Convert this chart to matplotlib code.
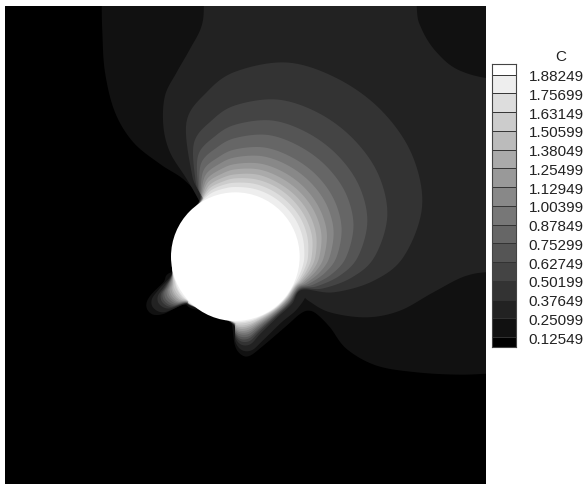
import matplotlib
matplotlib.use('Agg')
import matplotlib.pyplot as plt
import numpy as np

plt.rcParams['font.family'] = ['Liberation Sans', 'DejaVu Sans']

# contour levels of C, legend goes top to bottom
level_labels = ['1.88249', '1.75699', '1.63149', '1.50599', '1.38049', '1.25499', '1.12949', '1.00399',
                '0.87849', '0.75299', '0.62749', '0.50199', '0.37649', '0.25099', '0.12549']
levels = [0.12549, 0.25099, 0.37649, 0.50199, 0.62749, 0.75299, 0.87849, 1.00399,
          1.12949, 1.25499, 1.38049, 1.50599, 1.63149, 1.75699, 1.88249]
grays = [0, 17, 34, 51, 68, 85, 102, 119, 136, 153, 170, 187, 204, 221, 238, 255]

# the source (C above top level)
center_x = 706
center_y = 773
radius = 193

# outer contours
c1_x = [305, 305, 307, 315, 345, 400, 480, 555, 600, 650, 516, 490, 455, 440, 442, 460, 490, 525, 555, 580, 680, 695, 705, 725,
        750, 790, 860, 900, 925, 950, 990, 1040, 1130, 1250, 1380, 1500, 1700, 1700, 305]
c1_y = [-200, 0, 100, 220, 340, 430, 495, 545, 610, 800, 819, 850, 885, 910, 932, 947, 945, 928, 917, 930, 950, 975, 1040, 1068,
        1070, 1040, 980, 945, 935, 945, 985, 1050, 1100, 1120, 1127, 1123, 1123, -200, -200]
c2_x = [612, 612, 605, 570, 530, 495, 490, 510, 560, 600, 700, 880, 925, 990, 1100, 1200, 1300, 1400, 1500, 1700, 1700, 612]
c2_y = [-200, 0, 80, 150, 220, 290, 380, 460, 540, 610, 800, 870, 905, 940, 955, 935, 880, 830, 818, 818, -200, -200]
corner_x = [1250, 1250, 1265, 1310, 1380, 1500, 1700, 1700, 1250]
corner_y = [-200, 20, 90, 160, 215, 242, 242, -200, -200]

# distance of each inner contour beyond the circle, per direction
angles = [121.5, 118, 110, 100, 90, 75, 60, 45, 30, 15, 0, -10, -20, -26.5,
          -40, -55, -72, -80, -86, -90, -93,
          -131, -137, -142, -148, -153, -157, -165, 180, 150]
width_c2 = [-5, -5, -5, -5, -5, -5, -5, -5, -5, -5, -5, -5, -5, 45,
            50, 48, 72, 92, 88, 62, 7,
            5, 17, 78, 97, 88, 55, 4, -5, -5]
width_c3 = [10, 83, 236, 307, 362, 410, 423, 427, 419, 387, 312, 227, 120, 30,
            28, 28, 50, 73, 72, 50, 6,
            4, 13, 60, 76, 68, 40, 3, -5, -5]
width_c4 = [7, 60, 170, 221, 261, 295, 305, 307, 302, 279, 225, 163, 86, 26,
            24, 24, 43, 63, 62, 43, 5,
            3, 11, 52, 65, 58, 34, 3, -5, -5]
width_c5 = [6, 46, 132, 172, 203, 230, 237, 239, 235, 217, 175, 127, 67, 23,
            21, 21, 38, 55, 55, 38, 5,
            3, 10, 46, 58, 52, 30, 2, -5, -5]
width_c6 = [5, 37, 106, 138, 163, 185, 190, 192, 189, 174, 140, 102, 54, 20,
            19, 19, 34, 49, 48, 34, 4,
            3, 9, 40, 51, 46, 27, 2, -5, -5]
width_c7 = [4, 29, 84, 109, 129, 146, 150, 152, 149, 137, 111, 81, 43, 17,
            16, 16, 29, 42, 41, 29, 3,
            2, 7, 34, 43, 39, 23, 2, -5, -5]
width_c8 = [3, 24, 68, 89, 105, 119, 123, 124, 122, 112, 90, 66, 35, 15,
            14, 14, 25, 36, 35, 25, 3,
            2, 6, 29, 37, 33, 20, 1, -5, -5]
width_c9 = [3, 20, 55, 72, 85, 96, 99, 100, 98, 91, 73, 53, 28, 12,
            11, 11, 21, 30, 30, 21, 2,
            2, 5, 25, 31, 28, 16, 1, -5, -5]
width_c10 = [2, 16, 45, 58, 69, 78, 80, 81, 80, 74, 59, 43, 23, 10,
             9, 9, 17, 24, 24, 17, 2,
             1, 4, 20, 25, 22, 13, 1, -5, -5]
width_c11 = [2, 12, 35, 46, 54, 62, 63, 64, 63, 58, 47, 34, 18, 8,
             7, 7, 13, 19, 19, 13, 2,
             1, 3, 16, 20, 18, 10, 1, -5, -5]
width_c12 = [1, 10, 27, 35, 42, 47, 49, 49, 48, 45, 36, 26, 14, 6,
             5, 5, 10, 14, 14, 10, 1,
             1, 2, 11, 14, 13, 8, 1, -5, -5]
width_c13 = [1, 7, 19, 25, 29, 33, 34, 34, 34, 31, 25, 18, 10, 4,
             3, 3, 6, 8, 8, 6, 1,
             0, 1, 7, 8, 7, 4, 0, -5, -5]
width_c14 = [0, 4, 11, 14, 16, 18, 19, 19, 19, 17, 14, 10, 5, 2,
             2, 2, 3, 4, 4, 3, 0,
             0, 1, 4, 5, 4, 2, 0, -5, -5]
inner_widths = [width_c3, width_c4, width_c5, width_c6, width_c7, width_c8,
                width_c9, width_c10, width_c11, width_c12, width_c13, width_c14]


def gray(v):
    return (v / 255, v / 255, v / 255)


# closed catmull-rom through the read points
def smooth(x, y, n=10):
    p = np.column_stack([x, y]).astype(float)
    t = np.linspace(0, 1, n, endpoint=False)[:, None]
    out = []
    for i in range(len(p)):
        p0, p1, p2, p3 = p[i - 1], p[i], p[(i + 1) % len(p)], p[(i + 2) % len(p)]
        out.append(0.5 * (2 * p1 + (p2 - p0) * t + (2 * p0 - 5 * p1 + 4 * p2 - p3) * t ** 2
                          + (3 * p1 - p0 - 3 * p2 + p3) * t ** 3))
    out = np.vstack(out)
    return out[:, 0], out[:, 1]


def polar_outline(widths):
    a = np.radians(angles)
    r = radius + np.array(widths)
    return center_x + r * np.cos(a), center_y - r * np.sin(a)


fig = plt.figure(figsize=(5.85, 4.85), dpi=100, facecolor='white')
ax = fig.add_axes([5 / 585, 0, 481 / 585, 478 / 485])
ax.set_xlim(15, 1458)
ax.set_ylim(1455, 21)
ax.axis('off')
ax.add_patch(plt.Rectangle((15, 21), 1443, 1434, color='black', zorder=0))

ax.fill(*smooth(c1_x, c1_y), color=gray(grays[1]), lw=0)
ax.fill(*smooth(c2_x, c2_y), color=gray(grays[2]), lw=0)
ax.fill(*smooth(*polar_outline(width_c2)), color=gray(grays[2]), lw=0)
ax.fill(*smooth(corner_x, corner_y), color=gray(grays[1]), lw=0)
for i, w in enumerate(inner_widths):
    ax.fill(*smooth(*polar_outline(w)), color=gray(grays[i + 3]), lw=0)
ax.add_patch(plt.Circle((center_x, center_y), radius, color='white', lw=0, zorder=5))

# legend
cax = fig.add_axes([492 / 585, (485 - 348) / 485, 24 / 585, 283 / 485])
step = levels[1] - levels[0]
edges = [levels[0] - 10 / 18.75 * step] + levels + [levels[-1] + 10.7 / 18.75 * step]
for i in range(len(grays)):
    cax.fill_between([0, 1], edges[i], edges[i + 1], color=gray(grays[i]), lw=0)
for v in levels:
    cax.axhline(v, color='#333333', lw=0.7)
cax.set_xlim(0, 1)
cax.set_ylim(edges[0], edges[-1])
cax.set_xticks([])
cax.yaxis.tick_right()
cax.set_yticks(levels[::-1])
cax.set_yticklabels(level_labels, fontsize=11, color='#222222')
cax.tick_params(axis='y', length=0, pad=9)
for s in cax.spines.values():
    s.set_linewidth(0.8)
    s.set_color('#444444')
fig.text(561 / 585, 1 - 57 / 485, 'C', fontsize=11, color='#222222', ha='center', va='center')

fig.savefig('out.png', dpi=100)
